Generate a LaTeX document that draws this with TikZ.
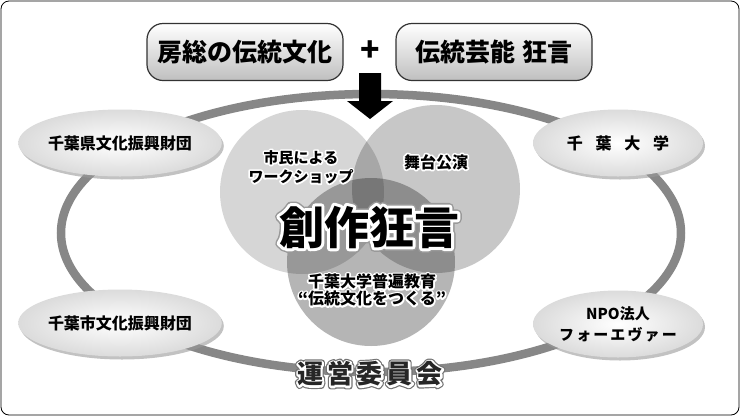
\documentclass[tikz,border=0pt]{standalone}
\usepackage{fontspec}
\newfontfamily\jp{Noto Sans CJK JP}
\usetikzlibrary{shapes.geometric,shadows}

% outline pass: width, stroke colour (rgb), text
\newcommand{\edge}[3]{\rlap{\special{pdf:literal direct 1 Tr 1 j #1 w #2 RG}#3\special{pdf:literal direct 0 Tr 0 G}}}
\newcommand{\halo}[1]{\edge{3.4}{1 1 1}{#1}#1}
\newcommand{\unei}{運\hspace{0.15em}営\hspace{0.15em}委\hspace{0.15em}員\hspace{0.15em}会}

\begin{document}
\begin{tikzpicture}[x=1pt,y=-1pt,
  topbox/.style={draw=black!80,line width=1.2pt,rounded corners=16pt,top color=white,bottom color=black!25,
    minimum width=196pt,minimum height=57pt,font=\jp\bfseries\fontsize{25}{28}\selectfont},
  member/.style={ellipse,minimum width=170pt,minimum height=67pt,inner sep=0pt,inner color=white,outer color=black!14,
    drop shadow={shadow xshift=2pt,shadow yshift=-3pt,fill=black!40,opacity=0.6},
    align=center,font=\jp\bfseries\fontsize{16}{21}\selectfont},
  circtext/.style={align=center,font=\jp\bfseries\fontsize{15}{19}\selectfont}]
\useasboundingbox (0,0) rectangle (740,416);
\draw[rounded corners=8pt,line width=0.8pt] (1,1) rectangle (739,415);

% Ring of partners
\draw[black!47,line width=8.5pt] (371,233) ellipse [x radius=310,y radius=139];

% Venn circles
\fill[black,opacity=0.16] (302,192) circle [radius=82];
\fill[black,opacity=0.22] (436,189) circle [radius=84];
\fill[black,opacity=0.29] (371,262) circle [radius=84];

% Sources
\node[topbox] (boxDento) at (245,52) {房総の伝統文化};
\node[topbox] (boxKyogen) at (494,52) {伝統芸能\hspace{0.3em}狂言};
\node[font=\jp\bfseries\fontsize{32}{32}\selectfont] (plus) at (370,51) {+};
\fill (359,73) -- (381,73) -- (381,101) -- (393,101) -- (370,119) -- (347,101) -- (359,101) -- cycle;

% Partners
\node[member] (kenZaidan) at (120,143) {千葉県文化振興財団};
\node[member] (chibaDai) at (618,143) {千\hspace{0.8em}葉\hspace{0.8em}大\hspace{0.8em}学};
\node[member] (shiZaidan) at (120,323) {千葉市文化振興財団};
\node[member,font=\jp\bfseries\fontsize{15}{21}\selectfont] (npo) at (618,324) {NPO法人\\\addfontfeature{LetterSpace=14}フォーエヴァー};

% Circle labels
\node[circtext] (workshop) at (301,167) {\halo{市民による}\\\halo{ワークショップ}};
\node[circtext,font=\jp\bfseries\fontsize{16}{19}\selectfont] (butai) at (436,162) {\halo{舞台公演}};
\node[circtext,font=\jp\bfseries\fontsize{16}{17}\selectfont] (fuhen) at (372,290) {\halo{千葉大学普遍教育}\\\halo{“伝統文化をつくる”}};
\node[font=\jp\bfseries\fontsize{45}{45}\selectfont] (sosaku) at (369,227)
  {\edge{9}{0.6 0.6 0.6}{創作狂言}\edge{6}{1 1 1}{創作狂言}創作狂言};

% Committee
\node[font=\jp\bfseries\fontsize{26}{26}\selectfont,text=black!85] (unei) at (370,374)
  {\edge{6}{0.45 0.45 0.45}{\unei}\edge{3.6}{1 1 1}{\unei}\unei};
\end{tikzpicture}
\end{document}
